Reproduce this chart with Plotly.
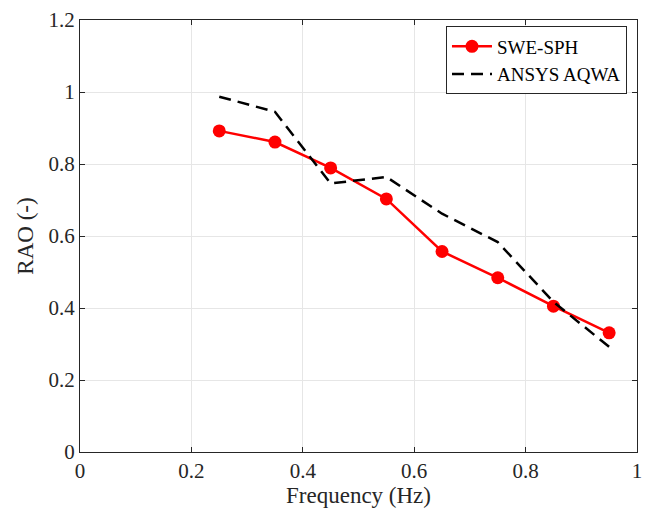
import plotly.graph_objects as go

# frequencies (Hz) and RAO values
freq_sph = [0.25, 0.35, 0.45, 0.55, 0.65, 0.75, 0.85, 0.95]
rao_sph = [0.892, 0.861, 0.789, 0.703, 0.557, 0.484, 0.405, 0.331]

freq_aqwa = [0.25, 0.35, 0.45, 0.55, 0.65, 0.75, 0.85, 0.95]
rao_aqwa = [0.987, 0.945, 0.746, 0.764, 0.662, 0.583, 0.417, 0.292]

x_ticks = [0, 0.2, 0.4, 0.6, 0.8, 1]
x_tick_text = ["0", "0.2", "0.4", "0.6", "0.8", "1"]
y_ticks = [0, 0.2, 0.4, 0.6, 0.8, 1, 1.2]
y_tick_text = ["0", "0.2", "0.4", "0.6", "0.8", "1", "1.2"]

FONT = "Liberation Serif, Times New Roman, serif"

fig = go.Figure()
fig.add_trace(go.Scatter(
    x=freq_sph, y=rao_sph, mode="lines+markers", name="SWE-SPH",
    line=dict(color="#ff0000", width=2.5),
    marker=dict(color="#ff0000", size=13, symbol="circle"),
))
fig.add_trace(go.Scatter(
    x=freq_aqwa, y=rao_aqwa, mode="lines", name="ANSYS AQWA",
    line=dict(color="#000000", width=2.5, dash="12px,7px"),
))

axis_common = dict(
    showline=True, linecolor="#262626", linewidth=1, mirror="ticks",
    ticks="inside", ticklen=5, tickcolor="#262626",
    showgrid=True, gridcolor="#e6e6e6", gridwidth=1,
    zeroline=False, automargin=False, ticklabeloverflow="allow",
    tickfont=dict(family=FONT, size=21, color="#262626"),
)

fig.update_xaxes(
    range=[0, 1], tickvals=x_ticks, ticktext=x_tick_text,
    title=dict(text="Frequency (Hz)", font=dict(family=FONT, size=23, color="#262626"), standoff=2),
    **axis_common,
)
fig.update_yaxes(
    range=[0, 1.2], tickvals=y_ticks, ticktext=y_tick_text,
    title=dict(text="RAO (-)", font=dict(family=FONT, size=23, color="#262626"), standoff=8),
    **axis_common,
)

# the page body adds an 8px offset, so the figure is sized to fit the window
fig.update_layout(
    width=643, height=509,
    margin=dict(l=72, r=14, t=12, b=65),
    paper_bgcolor="white", plot_bgcolor="white",
    font=dict(family=FONT, color="#262626"),
    legend=dict(
        x=0.982, y=0.985, xanchor="right", yanchor="top",
        bgcolor="white", bordercolor="#262626", borderwidth=1,
        font=dict(family=FONT, size=19, color="#000000"),
        tracegroupgap=0, itemwidth=40,
    ),
    showlegend=True,
)

fig.write_html("out.html")
